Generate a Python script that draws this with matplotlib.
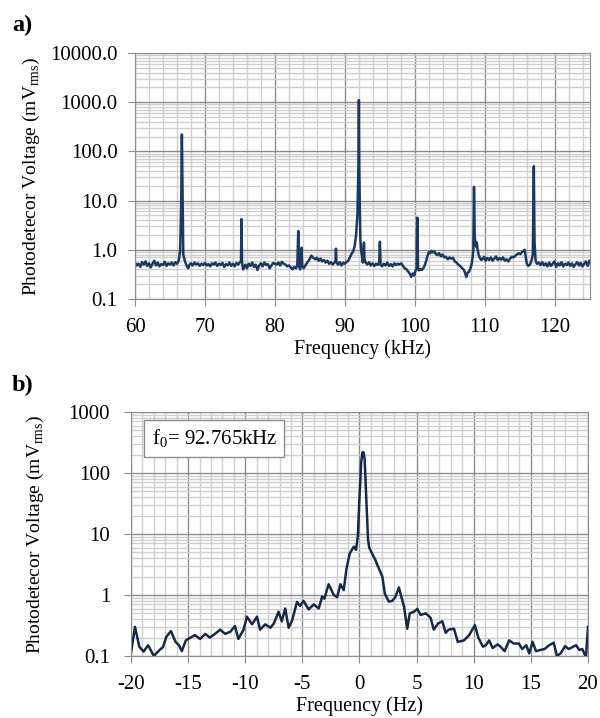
import numpy as np
import matplotlib
matplotlib.use("Agg")
import matplotlib.pyplot as plt
from matplotlib import ticker

plt.rcParams['font.family'] = ['Liberation Serif', 'DejaVu Serif']
plt.rcParams['font.size'] = 15

# data -------------------------------------------------------------------------
# a) wide spectrum, frequency (kHz) and voltage (mV rms)
freq_a = [60.0, 60.25, 60.5, 60.75, 61.0, 61.25, 61.5, 61.75, 62.0, 62.25,
          62.5, 62.75, 63.0, 63.25, 63.5, 63.75, 64.0, 64.25, 64.5, 64.75,
          65.0, 65.25, 65.5, 65.75, 66.0, 66.25, 66.45, 66.6, 66.7, 66.8,
          66.9, 67.05, 67.2, 67.4, 67.6, 67.8, 68.0, 68.25, 68.5, 68.75,
          69.0, 69.25, 69.5, 69.75, 70.0, 70.25, 70.5, 70.75, 71.0, 71.25,
          71.5, 71.75, 72.0, 72.25, 72.5, 72.75, 73.0, 73.25, 73.5, 73.75,
          74.0, 74.25, 74.5, 74.75, 75.0, 75.15, 75.22, 75.3, 75.45, 75.6,
          75.8, 76.0, 76.25, 76.5, 76.75, 77.0, 77.25, 77.5, 77.75, 78.0,
          78.25, 78.5, 78.75, 79.0, 79.25, 79.5, 79.75, 80.0, 80.25, 80.5,
          80.75, 81.0, 81.25, 81.5, 81.75, 82.0, 82.25, 82.5, 82.75, 83.0,
          83.2, 83.33, 83.45, 83.6, 83.75, 83.8, 83.9, 84.1, 84.3, 84.5,
          84.75, 85.0, 85.2, 85.4, 85.6, 85.8, 86.0, 86.25, 86.5, 86.75,
          87.0, 87.25, 87.5, 87.75, 88.0, 88.25, 88.5, 88.65, 88.72, 88.8,
          89.0, 89.25, 89.5, 89.75, 90.0, 90.25, 90.5, 90.75, 91.0, 91.2,
          91.4, 91.6, 91.8, 91.95, 92.0, 92.05, 92.14, 92.22, 92.35, 92.45,
          92.55, 92.65, 92.72, 92.8, 92.95, 93.2, 93.45, 93.7, 93.95, 94.2,
          94.45, 94.7, 94.9, 95.0, 95.1, 95.3, 95.55, 95.8, 96.05, 96.3,
          96.55, 96.8, 97.05, 97.3, 97.55, 97.8, 98.05, 98.3, 98.55, 98.8,
          99.05, 99.3, 99.5, 99.7, 99.9, 100.1, 100.25, 100.35, 100.45, 100.6,
          100.8, 101.0, 101.25, 101.45, 101.65, 101.8, 102.0, 102.2, 102.4, 102.6,
          102.8, 103.0, 103.2, 103.45, 103.7, 103.95, 104.2, 104.45, 104.7, 104.95,
          105.2, 105.45, 105.7, 105.95, 106.2, 106.45, 106.7, 106.95, 107.15, 107.35,
          107.55, 107.75, 107.95, 108.1, 108.25, 108.35, 108.45, 108.55, 108.65, 108.75,
          108.85, 108.95, 109.1, 109.3, 109.5, 109.7, 109.9, 110.1, 110.35, 110.6,
          110.85, 111.1, 111.35, 111.6, 111.85, 112.1, 112.35, 112.6, 112.85, 113.1,
          113.35, 113.6, 113.85, 114.1, 114.35, 114.6, 114.85, 115.1, 115.35, 115.55,
          115.7, 115.85, 116.0, 116.2, 116.45, 116.7, 116.85, 117.0, 117.1, 117.25,
          117.45, 117.7, 117.95, 118.2, 118.45, 118.7, 118.95, 119.2, 119.45, 119.7,
          119.95, 120.2, 120.45, 120.7, 120.95, 121.2, 121.45, 121.7, 121.95, 122.2,
          122.45, 122.7, 122.95, 123.2, 123.45, 123.7, 123.95, 124.2, 124.45, 124.7,
          124.95]
volt_a = [0.55, 0.48, 0.52, 0.45, 0.56, 0.50, 0.58, 0.47, 0.53, 0.44,
          0.52, 0.60, 0.48, 0.55, 0.46, 0.51, 0.49, 0.57, 0.47, 0.53,
          0.50, 0.55, 0.48, 0.56, 0.52, 0.60, 0.95, 8.0, 220, 12,
          0.80, 0.65, 0.55, 0.47, 0.42, 0.50, 0.53, 0.48, 0.55, 0.50,
          0.53, 0.47, 0.52, 0.49, 0.54, 0.48, 0.51, 0.46, 0.53, 0.50,
          0.55, 0.47, 0.52, 0.49, 0.54, 0.45, 0.51, 0.48, 0.55, 0.47,
          0.52, 0.46, 0.54, 0.50, 0.56, 0.60, 4.2, 0.55, 0.40, 0.45,
          0.50, 0.42, 0.52, 0.47, 0.55, 0.45, 0.50, 0.39, 0.48, 0.53,
          0.46, 0.55, 0.49, 0.51, 0.42, 0.48, 0.54, 0.52, 0.50, 0.55,
          0.48, 0.57, 0.52, 0.50, 0.46, 0.48, 0.44, 0.40, 0.45, 0.42,
          0.50, 2.4, 0.45, 0.40, 0.60, 1.1, 0.48, 0.42, 0.47, 0.52,
          0.58, 0.66, 0.76, 0.70, 0.67, 0.64, 0.69, 0.60, 0.66, 0.58,
          0.62, 0.55, 0.60, 0.52, 0.56, 0.50, 0.55, 0.60, 1.05, 0.55,
          0.50, 0.56, 0.48, 0.55, 0.52, 0.57, 0.60, 0.72, 0.85, 0.95,
          1.20, 2.0, 5.5, 80, 1100, 60, 6.0, 1.5, 0.90, 0.75,
          0.55, 0.70, 1.40, 0.65, 0.55, 0.50, 0.56, 0.48, 0.53, 0.47,
          0.52, 0.49, 0.55, 1.45, 0.50, 0.46, 0.52, 0.48, 0.55, 0.47,
          0.51, 0.46, 0.53, 0.49, 0.52, 0.50, 0.53, 0.47, 0.42, 0.40,
          0.36, 0.32, 0.28, 0.33, 0.30, 0.38, 0.40, 4.5, 0.42, 0.38,
          0.41, 0.39, 0.43, 0.50, 0.62, 0.75, 0.90, 0.85, 0.95, 0.88,
          0.93, 0.82, 0.78, 0.85, 0.74, 0.80, 0.70, 0.72, 0.64, 0.70,
          0.66, 0.69, 0.58, 0.55, 0.50, 0.47, 0.43, 0.40, 0.35, 0.28,
          0.34, 0.36, 0.42, 0.50, 0.70, 1.0, 19, 2.0, 1.3, 1.15,
          1.40, 1.05, 0.80, 0.68, 0.62, 0.66, 0.72, 0.60, 0.68, 0.62,
          0.70, 0.60, 0.66, 0.73, 0.62, 0.68, 0.63, 0.70, 0.60, 0.64,
          0.58, 0.66, 0.72, 0.70, 0.76, 0.80, 0.85, 0.82, 0.92, 0.95,
          1.0, 0.70, 0.52, 0.47, 0.50, 0.62, 0.80, 50, 1.5, 0.60,
          0.52, 0.55, 0.49, 0.56, 0.48, 0.53, 0.46, 0.55, 0.47, 0.52,
          0.58, 0.45, 0.53, 0.48, 0.56, 0.46, 0.52, 0.49, 0.55, 0.47,
          0.53, 0.45, 0.51, 0.56, 0.48, 0.54, 0.46, 0.52, 0.58, 0.47,
          0.60]

# b) zoom around f0, frequency offset (Hz)
freq_b = [-20.0, -19.65, -19.27, -18.9, -18.5, -18.0, -17.5, -17.2, -16.9, -16.5,
          -16.1, -15.8, -15.55, -15.2, -14.8, -14.4, -13.95, -13.5, -13.1, -12.65,
          -12.2, -11.75, -11.3, -10.9, -10.6, -10.15, -9.85, -9.4, -8.97, -8.7,
          -8.25, -7.8, -7.5, -7.08, -6.8, -6.5, -6.2, -5.9, -5.47, -5.2,
          -4.9, -4.45, -4.0, -3.57, -3.27, -3.07, -2.7, -2.25, -1.96, -1.67,
          -1.38, -1.14, -0.85, -0.5, -0.3, -0.15, 0.0, 0.15, 0.25, 0.35,
          0.45, 0.6, 0.75, 0.85, 1.1, 1.4, 1.7, 2.0, 2.22, 2.57,
          2.87, 3.16, 3.45, 3.66, 3.9, 4.18, 4.4, 4.76, 5.06, 5.35,
          5.8, 6.23, 6.5, 6.87, 7.25, 7.54, 7.8, 8.27, 8.6, 9.15,
          9.6, 10.1, 10.4, 10.8, 11.05, 11.35, 11.65, 12.1, 12.37, 12.7,
          13.1, 13.5, 13.95, 14.24, 14.6, 14.85, 15.15, 15.45, 15.8, 16.2,
          16.6, 17.0, 17.28, 17.6, 18.0, 18.3, 18.65, 18.95, 19.25, 19.5,
          19.82, 20.0]
volt_b = [0.112, 0.30, 0.142, 0.118, 0.15, 0.10, 0.125, 0.14, 0.207, 0.256,
          0.17, 0.15, 0.12, 0.18, 0.20, 0.22, 0.19, 0.23, 0.20, 0.23,
          0.27, 0.23, 0.25, 0.31, 0.19, 0.27, 0.44, 0.33, 0.44, 0.27,
          0.33, 0.29, 0.34, 0.53, 0.37, 0.60, 0.29, 0.38, 0.77, 0.66,
          0.80, 0.58, 0.70, 0.60, 0.94, 0.87, 1.5, 1.0, 0.92, 1.5,
          1.2, 2.7, 4.8, 6.2, 5.5, 9.0, 40, 150, 215, 220,
          170, 36, 8.0, 6.0, 4.8, 3.7, 2.7, 2.0, 1.05, 0.78,
          0.80, 0.94, 1.33, 0.94, 0.64, 0.28, 0.50, 0.53, 0.59, 0.47,
          0.50, 0.42, 0.27, 0.34, 0.37, 0.24, 0.27, 0.28, 0.17, 0.18,
          0.22, 0.32, 0.20, 0.142, 0.15, 0.18, 0.135, 0.155, 0.14, 0.12,
          0.18, 0.16, 0.16, 0.13, 0.15, 0.11, 0.17, 0.12, 0.125, 0.13,
          0.15, 0.165, 0.10, 0.11, 0.145, 0.13, 0.14, 0.15, 0.125, 0.13,
          0.095, 0.30]

yticks_a = [0.1, 1, 10, 100, 1000, 10000]
ylabels_a = ["0.1", "1.0", "10.0", "100.0", "1000.0", "10000.0"]
yticks_b = [0.1, 1, 10, 100, 1000]
ylabels_b = ["0.1", "1", "10", "100", "1000"]

ylab = "Photodetecor Voltage (mV$_{\\mathregular{rms}}$)"


# styling helper ------------------------------------------------------------------
def excel_axes(ax, xmajor, xminor, yticks, ylabels, ypad):
    ax.set_yscale('log')
    ax.set_ylim(yticks[0], yticks[-1])
    ax.yaxis.set_major_locator(ticker.FixedLocator(yticks))
    ax.yaxis.set_major_formatter(ticker.FixedFormatter(ylabels))
    ax.yaxis.set_minor_locator(ticker.LogLocator(base=10, subs=np.arange(2, 10)))
    ax.yaxis.set_minor_formatter(ticker.NullFormatter())
    ax.xaxis.set_major_locator(ticker.MultipleLocator(xmajor))
    ax.xaxis.set_minor_locator(ticker.MultipleLocator(xminor))
    ax.grid(which='major', color='#8c8c8c', lw=1.0)
    ax.grid(which='minor', color='#cfcfcf', lw=1.0)
    ax.set_axisbelow(True)
    for s in ax.spines.values():
        s.set_color('#8c8c8c')
    ax.tick_params(which='major', length=5, color='#8c8c8c', pad=8.5)
    ax.tick_params(which='minor', length=0)
    ax.tick_params(axis='y', which='major', pad=ypad)


fig = plt.figure(figsize=(6, 7.18), dpi=100)

# a) --------------------------------------------------------------------------------
ax1 = fig.add_axes([0.225, 0.5836, 0.758, 0.3426])
ax1.plot(freq_a, volt_a, color='#1c3860', lw=1.8)
excel_axes(ax1, 10, 2, yticks_a, ylabels_a, 7.5)
ax1.set_xlim(60, 125)
ax1.set_xlabel("Frequency (kHz)", fontsize=14.5, labelpad=2)
ax1.set_ylabel(ylab, fontsize=14, labelpad=6)
fig.text(0.02, 0.957, "a)", fontsize=17.5, fontweight='bold')

# b) --------------------------------------------------------------------------------
ax2 = fig.add_axes([0.2183, 0.0864, 0.7617, 0.3398])
ax2.plot(freq_b, volt_b, color='#162a48', lw=1.8)
excel_axes(ax2, 5, 1, yticks_b, ylabels_b, 10)
ax2.set_xlim(-20, 20)
ax2.set_xticks([-20, -15, -10, -5, 0, 5, 10, 15, 20])
ax2.set_xticklabels(["-20", "-15", "-10", "-5", "0", "5", "10", "15", "20"])
ax2.set_xlabel("Frequency (Hz)", fontsize=14.5, labelpad=2)
ax2.set_ylabel(ylab, fontsize=14, labelpad=16)
ax2.text(0.045, 0.89, "f$_{\\mathregular{0}}$= 92.765kHz", transform=ax2.transAxes,
         va='center', ha='left',
         bbox=dict(boxstyle='square,pad=0.35', fc='white', ec='#8c8c8c', lw=1))
fig.text(0.02, 0.455, "b)", fontsize=17.5, fontweight='bold')

plt.savefig("out.png", dpi=100)
